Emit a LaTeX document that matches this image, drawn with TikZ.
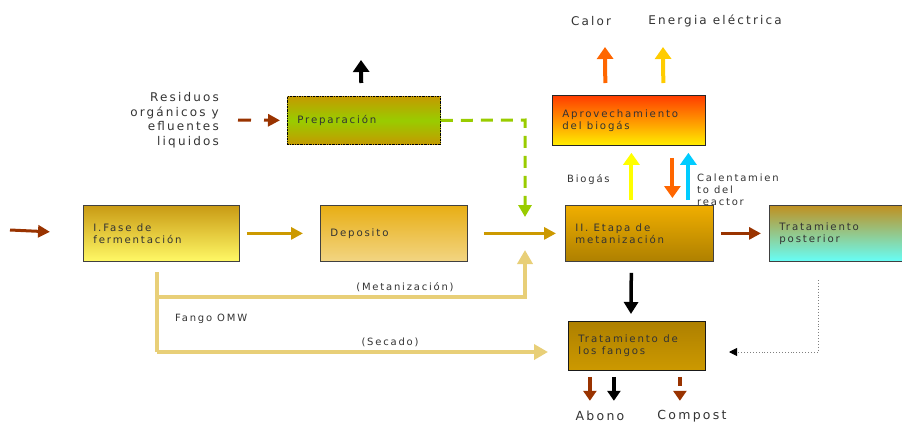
\documentclass[tikz,border=0pt]{standalone}
\usepackage{fontspec}
\setmainfont{DejaVu Sans}[LetterSpace=18]
\usetikzlibrary{arrows.meta,calc}
\newcommand\wsp{\spaceskip=0.52em plus 0.1em\relax}
\definecolor{txt}{HTML}{333333}
\definecolor{brownA}{HTML}{993300}
\definecolor{gold}{HTML}{CC9900}
\definecolor{tan}{HTML}{E8CF78}
\definecolor{greenA}{HTML}{99CC00}
\definecolor{orangeA}{HTML}{FF6600}
\definecolor{yellowA}{HTML}{FFCC00}
\definecolor{yellowB}{HTML}{FFFF00}
\definecolor{cyanA}{HTML}{00CCFF}
\definecolor{faseT}{RGB}{201,154,20}
\definecolor{faseB}{RGB}{255,249,102}
\definecolor{depT}{RGB}{232,174,20}
\definecolor{depB}{RGB}{242,213,131}
\definecolor{etT}{RGB}{240,174,0}
\definecolor{etB}{RGB}{174,128,0}
\definecolor{postT}{RGB}{192,144,32}
\definecolor{postB}{RGB}{102,255,248}
\definecolor{prepT}{RGB}{196,154,0}
\definecolor{apT}{RGB}{255,60,0}
\definecolor{apB}{RGB}{255,238,0}
\definecolor{fgT}{RGB}{174,128,0}
\definecolor{fgB}{RGB}{204,153,0}
\tikzset{
  box/.style={draw=black!75, line width=0.8pt, anchor=north west, inner xsep=10pt,
    align=left, text=txt, font=\fontsize{10.2}{12}\selectfont},
  lbl/.style={text=txt, font=\fontsize{12}{14.5}\selectfont, inner sep=0pt},
  slbl/.style={text=txt, font=\fontsize{10}{12}\selectfont, inner sep=0pt, align=left},
  harrow/.style={line width=3pt, -{Triangle[length=12pt,width=12pt]}},
  varrow/.style={line width=4pt, -{Triangle[length=12pt,width=16pt]}},
  barrow/.style={line width=4pt, -{Triangle[length=10pt,width=13pt]}},
}
\begin{document}
\begin{tikzpicture}[x=1pt,y=-1pt]
\useasboundingbox (0,0) rectangle (902,423);

% boxes
\node[box, text width=136pt, minimum height=56pt, top color=faseT, bottom color=faseB] (fase) at (83,205) {\wsp I.Fase de\\fermentación};
\node[box, text width=127pt, minimum height=56pt, top color=depT, bottom color=depB] (dep) at (320,205) {Deposito};
\node[box, text width=128pt, minimum height=56pt, top color=etT, bottom color=etB] (etapa) at (565,205) {\wsp II. Etapa de\\metanización};
\node[box, text width=120pt, minimum height=56pt, top color=postT, bottom color=postB] (post) at (769,205) {Tratamiento\\posterior};
\node[box, draw=black, dash pattern=on 2pt off 1pt on 0.6pt off 1pt, text width=133pt, minimum height=48pt, top color=prepT, bottom color=prepT, middle color=greenA] (prep) at (287,96) {Preparación};
\node[box, draw=black!85, text width=133pt, minimum height=50pt, top color=apT, bottom color=apB] (aprov) at (552,95) {\wsp Aprovechamiento\\del biogás};
\node[box, draw=black!90, text width=117pt, minimum height=49pt, top color=fgT, bottom color=fgB] (fang) at (568,321) {\wsp Tratamiento de\\los fangos};

% labels
\node[lbl, align=right, anchor=east] (resid) at (219,120) {Residuos\\orgánicos y\\efluentes\\liquidos};
\node[lbl] (calor) at (591,21) {Calor};
\node[lbl] (energ) at (715,21) {Energia eléctrica};
\node[lbl, font=\fontsize{12.5}{14}\selectfont] (abono) at (600,416) {Abono};
\node[lbl, font=\fontsize{12.5}{14}\selectfont] (compost) at (692,416) {Compost};
\node[slbl, anchor=west] (biog) at (567,180) {Biogás};
\node[slbl, anchor=west] (calen) at (697,190) {Calentamien\\to del\\reactor};
\node[slbl] (metl) at (405,287) {(Metanización)};
\node[slbl, anchor=west] (fomw) at (175,319) {Fango OMW};
\node[slbl] (secl) at (390,342) {(Secado)};

% free ends
\coordinate (in) at (10,230);
\coordinate (rin) at (238,120);
\coordinate (gcorner) at (525,120);
\coordinate (gend) at (525,217);
\coordinate (ftop) at (157,272);
\coordinate (fbot) at (157,352);
\coordinate (fmid) at (157,297);
\coordinate (mcorner) at (525,297);
\coordinate (mend) at (525,250);
\coordinate (send) at (548,352);
\coordinate (dtop) at (818,280);
\coordinate (dcorner) at (818,352);
\coordinate (dend) at (729,352);
\coordinate (upB) at (361,60);
\coordinate (calend) at (605,47);
\coordinate (enend) at (663,47);
\coordinate (bioT) at ($(aprov.south)+(2.5,0)$);
\coordinate (bioB) at (bioT |- etapa.north);
\coordinate (hotT) at ($(aprov.south)+(43.5,0)$);
\coordinate (hotB) at (hotT |- etapa.north);
\coordinate (cyT) at ($(aprov.south)+(59.5,0)$);
\coordinate (cyB) at (cyT |- etapa.north);
\coordinate (ab1) at ($(fang.south)+(-47,0)$);
\coordinate (ab2) at ($(fang.south)+(-23,0)$);
\coordinate (cp1) at ($(fang.south)+(43,0)$);

% main flow
\draw[harrow, brownA, shorten >=33pt] (in) -- (fase.west);
\draw[harrow, gold, shorten <=7pt, shorten >=17pt] (fase.east) -- (dep.west);
\draw[harrow, gold, shorten <=16pt, shorten >=9pt] (dep.east) -- (etapa.west);
\draw[harrow, brownA, shorten <=7pt, shorten >=8pt] (etapa.east) -- (post.west);

% residuos dashed
\draw[harrow, brownA, dash pattern=on 13pt off 13pt, shorten >=7pt] (rin) -- (prep.west);
% green dashed
\draw[line width=3pt, greenA, dash pattern=on 12pt off 8pt, -{Triangle[length=12pt,width=13pt]}] (prep.east) -- (gcorner) -- (gend);
% black up
\draw[line width=4pt, -{Triangle[length=12pt,width=16pt]}, shorten <=13pt] ([xshift=-2.5pt]prep.north) -- (upB);

% fango lines
\draw[line width=3.5pt, tan] (ftop) -- (fbot);
\draw[line width=3.5pt, tan, -{Triangle[length=14pt,width=15pt]}] (fbot) -- (send);
\draw[line width=3.5pt, tan, -{Triangle[length=14pt,width=15pt]}] (fmid) -- (mcorner) -- (mend);

% etapa -> fangos
\draw[line width=3.5pt, -{Triangle[length=12pt,width=14pt]}, shorten <=11pt, shorten >=7pt] ([xshift=-8pt]etapa.south) -- ([xshift=-6pt]fang.north);

% dotted gray
\draw[gray, line width=0.9pt, dotted] (dtop) -- (dcorner) -- ([xshift=6pt]dend);
\draw[-{Triangle[length=8pt,width=8pt]}, line width=0.9pt, black] ([xshift=6pt]dend) -- (dend);

% aprov arrows
\draw[varrow, orangeA, shorten <=12pt] ([xshift=-23.5pt]aprov.north) -- (calend);
\draw[varrow, yellowA, shorten <=12pt] ([xshift=34.5pt]aprov.north) -- (enend);
\draw[varrow, yellowB, shorten <=5pt, shorten >=7pt] (bioB) -- (bioT);
\draw[varrow, orangeA, shorten <=12pt, shorten >=7pt] (hotT) -- (hotB);
\draw[varrow, cyanA, shorten <=5pt, shorten >=7pt] (cyB) -- (cyT);

% bottom arrows
\draw[barrow, brownA, shorten <=6pt] (ab1) -- ++(0,30);
\draw[barrow, black, shorten <=6pt] (ab2) -- ++(0,30);
\draw[barrow, brownA, shorten <=6pt, dash pattern=on 9pt off 30pt] (cp1) -- ++(0,30);
\end{tikzpicture}
\end{document}
